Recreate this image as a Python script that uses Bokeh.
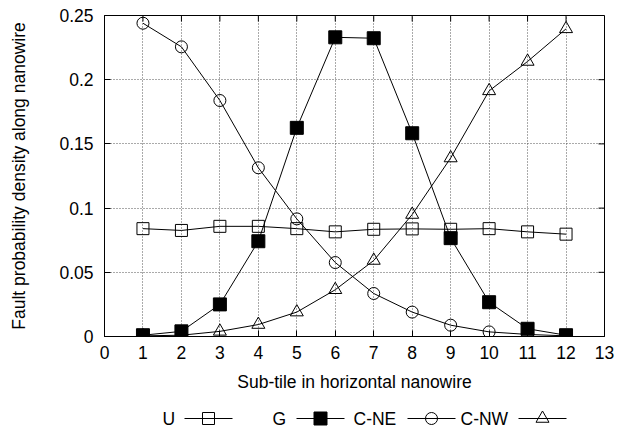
from bokeh.plotting import figure
from bokeh.layouts import column
from bokeh.models import FixedTicker, Range1d
from bokeh.embed import file_html
from bokeh.resources import INLINE
from bokeh.core.properties import value

# ---- data ----
subtiles = [1, 2, 3, 4, 5, 6, 7, 8, 9, 10, 11, 12]
u_vals = [0.084, 0.0826, 0.0858, 0.0858, 0.084, 0.0815, 0.0835, 0.0838, 0.0835, 0.084, 0.0815, 0.0797]
g_vals = [0.001, 0.004, 0.025, 0.0742, 0.1625, 0.2330, 0.2323, 0.1583, 0.0766, 0.0267, 0.006, 0.001]
cne_vals = [0.244, 0.2256, 0.1838, 0.1314, 0.0916, 0.0576, 0.0335, 0.019, 0.0088, 0.0036, 0.0016, 0.0005]
cnw_vals = [0.0005, 0.001, 0.004, 0.0093, 0.019, 0.0364, 0.0592, 0.095, 0.139, 0.1913, 0.2142, 0.2396]
series_names = ["U", "G", "C-NE", "C-NW"]
x_ticks = list(range(0, 14))
y_ticks = [0, 0.05, 0.1, 0.15, 0.2, 0.25]
y_tick_labels = ["0", "0.05", "0.1", "0.15", "0.2", "0.25"]

FONT = "Liberation Sans"
FS = "17.5px"

# layout constants (pixels)
W, H = 632, 400
BL, BR, BT, BB = 104, 28, 15, 64
FW, FH = W - BL - BR, H - BT - BB
TICK = 6

p = figure(width=W, height=H, output_backend="svg", toolbar_location=None,
           x_range=Range1d(0, 13), y_range=Range1d(0, 0.25),
           min_border_left=BL, min_border_right=BR, min_border_top=BT, min_border_bottom=BB)
p.outline_line_color = "black"
p.outline_line_width = 1

for ax in p.xaxis + p.yaxis:
    ax.major_label_text_font = FONT
    ax.major_label_text_font_size = FS
    ax.axis_label_text_font = FONT
    ax.axis_label_text_font_size = FS
    ax.axis_label_text_font_style = "normal"
    ax.major_tick_in = TICK
    ax.major_tick_out = 0
    ax.minor_tick_line_color = None
    ax.axis_line_color = "black"
    ax.major_tick_line_color = "black"
    ax.major_label_text_color = "black"
    ax.axis_label_text_color = "black"

p.xaxis.ticker = FixedTicker(ticks=x_ticks)
p.yaxis.ticker = FixedTicker(ticks=y_ticks)
p.yaxis.major_label_overrides = {t: l for t, l in zip(y_ticks, y_tick_labels)}
p.xaxis.axis_label = "Sub-tile in horizontal nanowire"
p.yaxis.axis_label = "Fault probability density along nanowire"
p.xaxis.major_label_standoff = 9
p.yaxis.major_label_standoff = 11
p.xaxis.axis_label_standoff = 10
p.yaxis.axis_label_standoff = 27

# mirrored inward ticks on top and right (pixel-unit helper ranges)
p.extra_y_ranges = {"py": Range1d(0, FH)}
p.extra_x_ranges = {"px": Range1d(0, FW)}
p.segment(x0=x_ticks, x1=x_ticks, y0=[FH - TICK] * len(x_ticks), y1=[FH] * len(x_ticks),
          y_range_name="py", line_color="black", line_width=1)
p.segment(x0=[FW - TICK] * len(y_ticks), x1=[FW] * len(y_ticks), y0=y_ticks, y1=y_ticks,
          x_range_name="px", line_color="black", line_width=1)

p.xgrid.ticker = FixedTicker(ticks=x_ticks[1:-1])
p.ygrid.ticker = FixedTicker(ticks=y_ticks[1:-1])
for g in (p.xgrid[0], p.ygrid[0]):
    g.grid_line_color = "#555555"
    g.grid_line_dash = "1 2"
    g.grid_line_width = 1

# series
p.line(subtiles, u_vals, line_color="black", line_width=1)
p.scatter(subtiles, u_vals, marker="square", size=12, line_color="black", fill_alpha=0, line_width=1)
p.line(subtiles, g_vals, line_color="black", line_width=1)
p.scatter(subtiles, g_vals, marker="square", size=13, line_color="black", fill_color="black")
p.line(subtiles, cne_vals, line_color="black", line_width=1)
p.scatter(subtiles, cne_vals, marker="circle", size=12, line_color="black", fill_alpha=0, line_width=1)
p.line(subtiles, cnw_vals, line_color="black", line_width=1)
p.scatter(subtiles, cnw_vals, marker="triangle", size=13, line_color="black", fill_alpha=0, line_width=1)

# legend figure (label then sample, gnuplot style); frame aligned with main frame
LH = 29
leg = figure(width=W, height=LH, output_backend="svg", toolbar_location=None,
             x_range=Range1d(0, FW), y_range=Range1d(0, LH),
             min_border_left=BL, min_border_right=BR, min_border_top=0, min_border_bottom=0)
leg.outline_line_color = None
leg.xaxis.visible = False
leg.yaxis.visible = False
leg.grid.visible = False

label_x = [58, 168, 249, 356]
line_x0 = [80, 192, 303, 414]
line_len = 48
ly = 11
markers = [("square", 12, 0, "white"), ("square", 13, 1, "black"), ("circle", 12, 0, "white"), ("triangle", 13, 0, "white")]
leg.text(x=label_x, y=[ly] * 4, text=series_names, text_font=value(FONT), text_font_size=value(FS),
         text_baseline="middle", text_align="left", text_color="black")
leg.segment(x0=line_x0, y0=[ly] * 4, x1=[x + line_len for x in line_x0], y1=[ly] * 4,
            line_color="black", line_width=1)
for (m, s, fa, fc), x0 in zip(markers, line_x0):
    leg.scatter([x0 + line_len / 2], [ly], marker=m, size=s, line_color="black",
                fill_color=fc, fill_alpha=fa, line_width=1)

layout = column(p, leg, spacing=0)
open("out.html", "w").write(file_html(layout, INLINE))
